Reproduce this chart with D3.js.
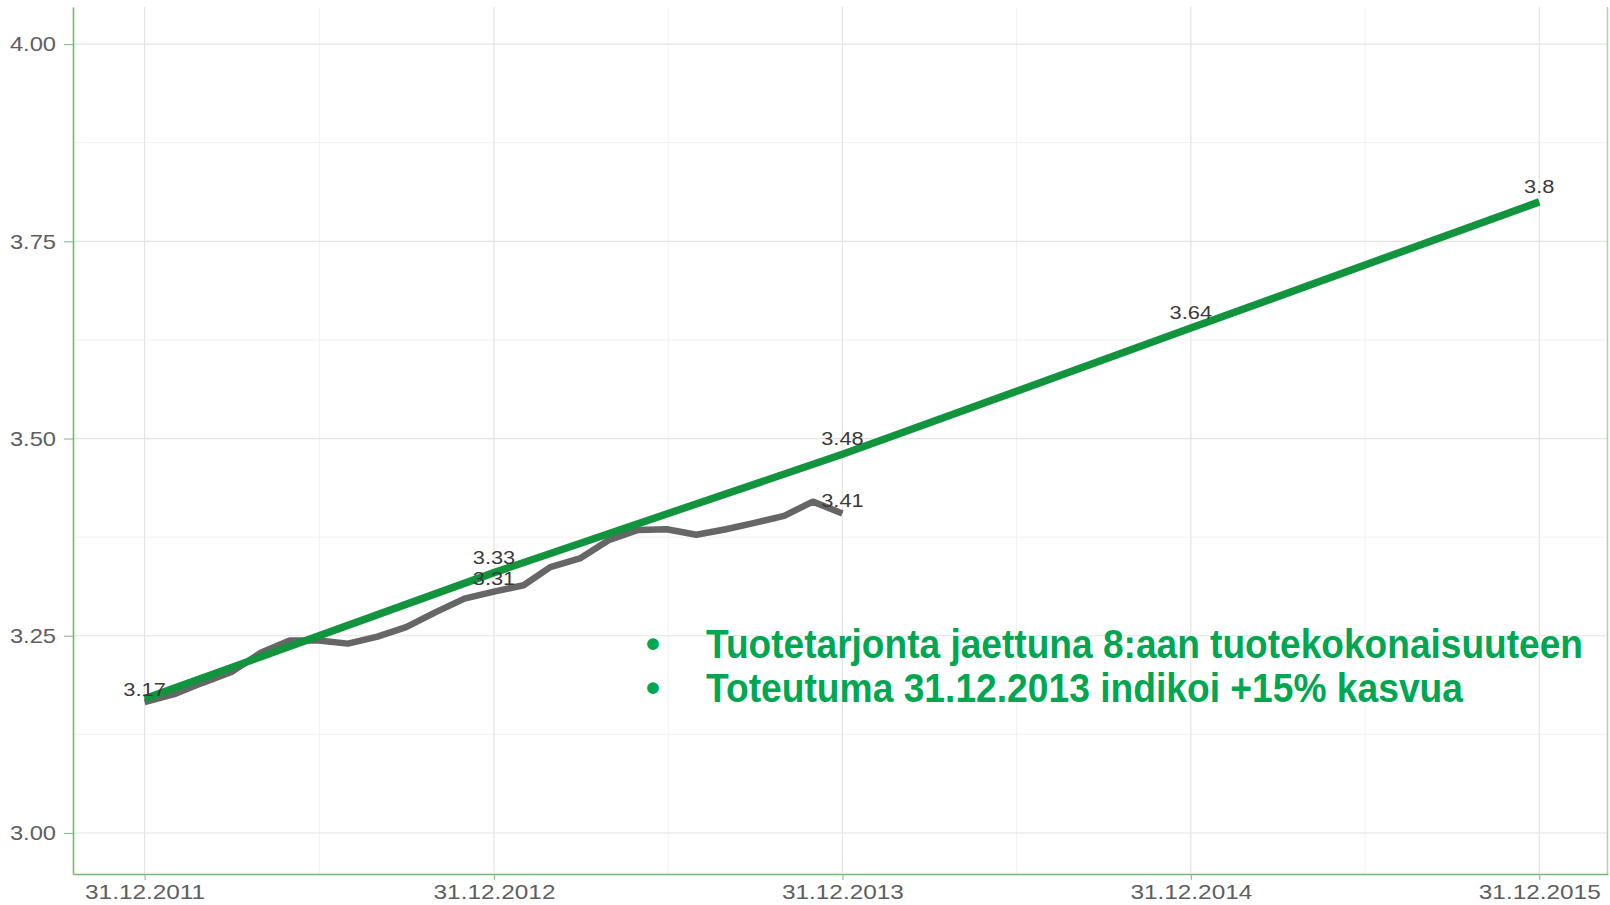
<!DOCTYPE html>
<html>
<head>
<meta charset="utf-8">
<script src="https://cdn.jsdelivr.net/npm/d3@7"></script>
<style>
  html, body { margin: 0; padding: 0; background: #fff; }
  svg { display: block; font-family: "Liberation Sans", Arial, sans-serif; }
</style>
</head>
<body>
<svg id="chart" width="1610" height="905"></svg>
<script>
// ---------------- DATA ----------------
const targetDates  = ["2011-12-31", "2012-12-31", "2013-12-31", "2014-12-31", "2015-12-31"];
const targetValues = [3.17, 3.33, 3.48, 3.64, 3.80];
const targetLabels = ["", "3.33", "3.48", "3.64", "3.8"];

const actualMonths = ["2011-12", "2012-01", "2012-02", "2012-03", "2012-04", "2012-05", "2012-06",
  "2012-07", "2012-08", "2012-09", "2012-10", "2012-11", "2012-12", "2013-01", "2013-02", "2013-03",
  "2013-04", "2013-05", "2013-06", "2013-07", "2013-08", "2013-09", "2013-10", "2013-11", "2013-12"];
const actualValues = [3.166, 3.176, 3.190, 3.204, 3.228, 3.244, 3.244, 3.240, 3.249, 3.261, 3.280,
  3.297, 3.306, 3.314, 3.337, 3.348, 3.371, 3.384, 3.385, 3.378, 3.385, 3.393, 3.402, 3.420, 3.405];
const actualLabels = ["3.17", "", "", "", "", "", "", "", "", "", "", "", "3.31",
  "", "", "", "", "", "", "", "", "", "", "", "3.41"];

const xTickLabels = ["31.12.2011", "31.12.2012", "31.12.2013", "31.12.2014", "31.12.2015"];
const yTicks = [3.00, 3.25, 3.50, 3.75, 4.00];
const notes = ["Tuotetarjonta jaettuna 8:aan tuotekokonaisuuteen", "Toteutuma 31.12.2013 indikoi +15% kasvua"];

// ---------------- LAYOUT ----------------
const W = 1610, H = 905;
const margin = { top: 7, right: 2, bottom: 31, left: 73 };
const iw = W - margin.left - margin.right;
const ih = H - margin.top - margin.bottom;

const parse = d3.timeParse("%Y-%m-%d");
const monthEnd = s => { const [yy, m] = s.split("-").map(Number); return new Date(yy, m, 0); };

const tDates = targetDates.map(parse);
const target = tDates.map((d, i) => ({ date: d, value: targetValues[i], label: targetLabels[i], off: 9 }));
const actual = actualMonths.map((m, i) => ({ date: monthEnd(m), value: actualValues[i], label: actualLabels[i], off: 6.5 }));

const x = d3.scaleTime()
  .domain([parse("2011-10-17"), parse("2016-03-12")])
  .range([0, iw]);
const y = d3.scaleLinear().domain([2.948, 4.047]).range([ih, 0]);

const svg = d3.select("#chart");
const g = svg.append("g").attr("transform", `translate(${margin.left},${margin.top})`);

// minor grid
const minorX = tDates.slice(0, -1).map((d, i) => new Date((d.getTime() + tDates[i + 1].getTime()) / 2));
const minorY = yTicks.slice(0, -1).map((v, i) => (v + yTicks[i + 1]) / 2);
g.append("g").selectAll("line").data(minorX).join("line")
  .attr("x1", d => x(d)).attr("x2", d => x(d)).attr("y1", 0).attr("y2", ih)
  .attr("stroke", "#f1f1f1").attr("stroke-width", 1);
g.append("g").selectAll("line").data(minorY).join("line")
  .attr("x1", 0).attr("x2", iw).attr("y1", d => y(d)).attr("y2", d => y(d))
  .attr("stroke", "#f1f1f1").attr("stroke-width", 1);
// major grid
g.append("g").selectAll("line").data(tDates).join("line")
  .attr("x1", d => x(d)).attr("x2", d => x(d)).attr("y1", 0).attr("y2", ih)
  .attr("stroke", "#e4e4e4").attr("stroke-width", 1.2);
g.append("g").selectAll("line").data(yTicks).join("line")
  .attr("x1", 0).attr("x2", iw).attr("y1", d => y(d)).attr("y2", d => y(d))
  .attr("stroke", "#e4e4e4").attr("stroke-width", 1.2);

// right border
g.append("line").attr("x1", iw - 0.5).attr("x2", iw - 0.5).attr("y1", 0).attr("y2", ih)
  .attr("stroke", "#a9d6a9").attr("stroke-width", 1.5);

// axes
const xAxis = d3.axisBottom(x).tickValues(tDates)
  .tickFormat((d, i) => xTickLabels[i]).tickSize(6).tickSizeOuter(0).tickPadding(4);
const yAxis = d3.axisLeft(y).tickValues(yTicks)
  .tickFormat(d3.format(".2f")).tickSize(9).tickSizeOuter(0).tickPadding(6);

const gx = g.append("g").attr("transform", `translate(0,${ih})`).call(xAxis);
const gy = g.append("g").call(yAxis);
[gx, gy].forEach(a => {
  a.select(".domain").attr("stroke", "#74b874").attr("stroke-width", 1.6);
  a.selectAll(".tick line").attr("stroke", "#8cc48c").attr("stroke-width", 1.2);
  a.selectAll(".tick text").attr("fill", "#5e5e5e").attr("font-size", 21)
    .attr("font-family", "'Liberation Sans', Arial, sans-serif");
});
gx.selectAll(".tick text").attr("transform", "scale(1.16,1)");
gy.selectAll(".tick text").attr("transform", "scale(1.13,1)");

// lines
const line = d3.line().x(d => x(d.date)).y(d => y(d.value));
g.append("path").datum(actual).attr("d", line)
  .attr("fill", "none").attr("stroke", "#666666").attr("stroke-width", 6.5)
  .attr("stroke-linejoin", "round");
g.append("path").datum(target).attr("d", line)
  .attr("fill", "none").attr("stroke", "#12943e").attr("stroke-width", 7.5);

// value labels
const labelData = actual.concat(target).filter(d => d.label);
g.append("g").selectAll("text").data(labelData).join("text")
  .attr("transform", d => `translate(${x(d.date)},${y(d.value) - d.off}) scale(1.18,1)`)
  .attr("text-anchor", "middle").attr("font-size", 18.5).attr("fill", "#3a3a3a")
  .text(d => d.label);

// annotation
const ann = svg.append("g");
const noteY = [658, 702];
const noteLen = [877, 757];
notes.forEach((t, i) => {
  ann.append("text").attr("x", 653).attr("y", noteY[i]).attr("text-anchor", "middle")
    .attr("font-size", 41).attr("font-weight", "bold").attr("fill", "#00a651").text("•");
  ann.append("text")
    .attr("transform", `translate(706,${noteY[i]}) scale(1,1.1)`)
    .attr("font-size", 37).attr("font-weight", "bold").attr("fill", "#00a651")
    .attr("textLength", noteLen[i]).attr("lengthAdjust", "spacingAndGlyphs")
    .text(t);
});
</script>
</body>
</html>
